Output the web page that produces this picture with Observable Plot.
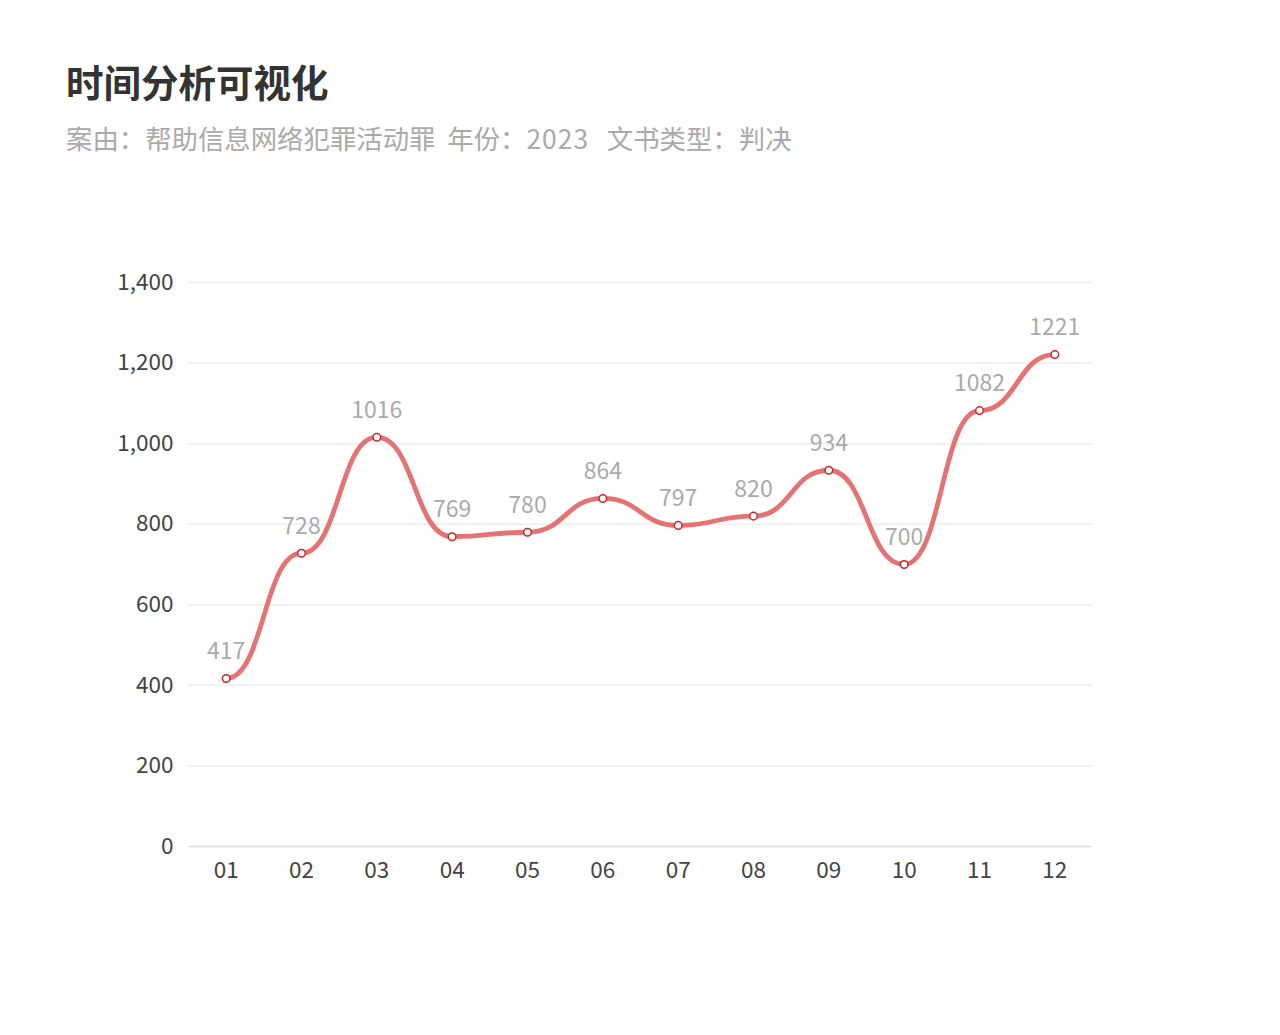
<!DOCTYPE html>
<html><head><meta charset="utf-8">
<script src="https://cdn.jsdelivr.net/npm/d3@7"></script>
<script src="https://cdn.jsdelivr.net/npm/@observablehq/plot@0.6"></script>
<style>
html,body{margin:0;padding:0;background:#fff;}
body{width:1280px;height:1035px;position:relative;overflow:hidden;font-family:"Noto Sans CJK SC","Noto Sans",sans-serif;}
#title{position:absolute;left:66px;top:56px;font-size:37.5px;font-weight:bold;color:#333;line-height:50px;}
#subtitle{position:absolute;left:66px;top:120px;font-size:26.4px;color:#aaa;line-height:36px;white-space:pre;}
#subtitle .num{letter-spacing:1px;}
#chart{position:absolute;left:0;top:0;}
</style></head>
<body>
<div id="chart"></div>
<div id="title">时间分析可视化</div>
<div id="subtitle">案由：帮助信息网络犯罪活动罪  年份：<span class="num">2023</span>   文书类型：判决</div>
<script>
const months = ["01","02","03","04","05","06","07","08","09","10","11","12"];
const counts = [417,728,1016,769,780,864,797,820,934,700,1082,1221];
const yTicks = [0,200,400,600,800,1000,1200,1400];

const data = months.map((m,i)=>({month:m, count:counts[i]}));
const font = '"Noto Sans CJK SC","Noto Sans",sans-serif';

const chart = Plot.plot({
  width:1280, height:1035,
  marginLeft:188, marginRight:188, marginTop:282, marginBottom:189,
  style:{fontFamily:font, background:"transparent", overflow:"visible"},
  x:{type:"point", domain:months, padding:0.5, round:false, label:null},
  y:{domain:[0,1400], label:null},
  marks:[
    Plot.gridY(yTicks.filter(d=>d>0), {stroke:"#eeeeee", strokeOpacity:1, strokeWidth:1.5}),
    Plot.ruleY([0], {stroke:"#e0e0e0", strokeWidth:1.5}),
    Plot.axisY(yTicks, {tickSize:0, tickPadding:15, tickFormat:d3.format(","), fontSize:22.5, fill:"#444", label:null}),
    Plot.axisX(months, {tickSize:0, tickPadding:16, fontSize:22.5, fill:"#444", label:null}),
    Plot.line(data, {x:"month", y:"count", curve:"bump-x", stroke:"#e57373", strokeWidth:4.8}),
    Plot.dot(data, {x:"month", y:"count", r:3.8, fill:"#fff", stroke:"#c62828", strokeWidth:1.5}),
    Plot.text(data, {x:"month", y:"count", text:d=>String(d.count), dy:-27, fontSize:23, fill:"#aaa"})
  ]
});
document.getElementById("chart").appendChild(chart);
</script>
</body></html>
